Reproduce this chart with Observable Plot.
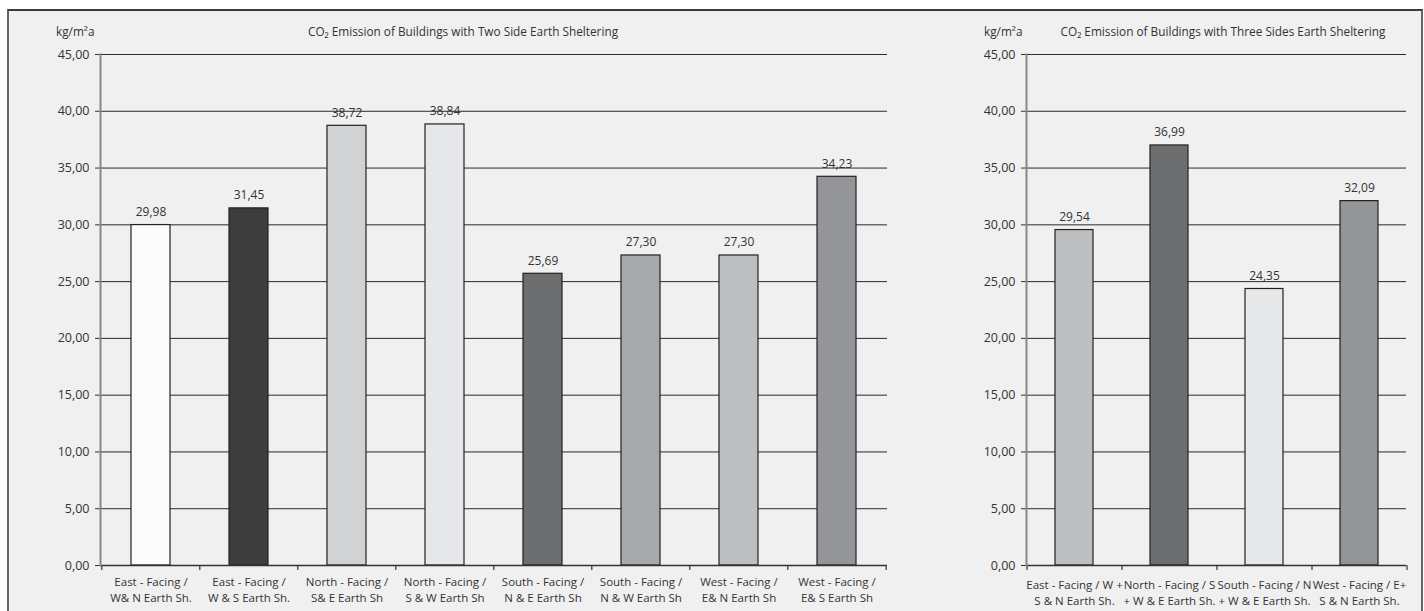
<!DOCTYPE html>
<html><head><meta charset="utf-8">
<script src="https://cdn.jsdelivr.net/npm/d3@7"></script>
<script src="https://cdn.jsdelivr.net/npm/@observablehq/plot@0.6"></script>
<style>
body{margin:0;background:#fff;width:1424px;height:611px;overflow:hidden;font-family:"Open Sans",sans-serif;position:relative;}
#frame{position:absolute;left:7px;top:9px;width:1412px;height:610px;background:#f0f0f0;border-top:2px solid #3a3a3a;border-left:2px solid #666;border-right:2px solid #666;}
.panel{position:absolute;top:0;}
.t{position:absolute;font-size:11.8px;color:#333;white-space:nowrap;line-height:16px;}
.c{transform:translateX(-50%);}
</style></head><body>
<div id="frame"></div>
<div id="left" class="panel" style="left:0"></div>
<div id="right" class="panel" style="left:900px"></div>
<div class="t" style="left:56px;top:23px">kg/m²a</div>
<div class="t c" style="left:463px;top:23px">CO₂ Emission of Buildings with Two Side Earth Sheltering</div>
<div class="t" style="left:984px;top:23px">kg/m²a</div>
<div class="t c" style="left:1223px;top:23px">CO₂ Emission of Buildings with Three Sides Earth Sheltering</div>
<script>
const yTicks = [0, 5, 10, 15, 20, 25, 30, 35, 40, 45];

const twoSideCats = [
  "East - Facing /\nW& N Earth Sh.",
  "East - Facing /\nW & S Earth Sh.",
  "North - Facing /\nS& E Earth Sh",
  "North - Facing /\nS & W Earth Sh",
  "South - Facing /\nN & E Earth Sh",
  "South - Facing /\nN & W Earth Sh",
  "West - Facing /\nE& N Earth Sh",
  "West - Facing /\nE& S Earth Sh"
];
const twoSideValues = [29.98, 31.45, 38.72, 38.84, 25.69, 27.30, 27.30, 34.23];
const twoSideColors = ["#fbfbfb", "#3d3d3d", "#d1d2d4", "#e6e7e8", "#6d6e70", "#a7a9ac", "#bcbec0", "#939598"];

const threeSideCats = [
  "East - Facing / W +\nS & N Earth Sh.",
  "North - Facing / S\n+ W & E Earth Sh.",
  "South - Facing / N\n+ W & E Earth Sh.",
  "West - Facing / E+\nS & N Earth Sh."
];
const threeSideValues = [29.54, 36.99, 24.35, 32.09];
const threeSideColors = ["#bcbec0", "#6d6e70", "#e6e7e8", "#939598"];

const fmt = d => d.toFixed(2).replace(".", ",");

function panel(cats, vals, cols, width, mL, mR, xPad) {
  const data = cats.map((c, i) => ({c, v: vals[i], col: cols[i]}));
  const H = 611, mT = 54, mB = 46;
  const step = (width - mL - mR) / cats.length;
  const p = 0.6;
  return Plot.plot({
    width, height: H, marginLeft: mL, marginRight: mR, marginTop: mT, marginBottom: mB,
    style: {background: "transparent", fontFamily: "Open Sans", fontSize: "12px", color: "#333"},
    x: {domain: cats, paddingInner: p, paddingOuter: p / 2, label: null},
    y: {domain: [0, 45], label: null},
    marks: [
      Plot.gridY(yTicks.filter(t => t > 0), {stroke: "#2a2a2a", strokeOpacity: 1}),
      Plot.axisY(yTicks, {tickFormat: fmt, tickSize: 5, tickPadding: 6, stroke: "#333", fill: "#333", fontSize: 12.5}),
      Plot.barY(data, {x: "c", y: "v", fill: "col", stroke: "#222", strokeWidth: 1.2}),
      Plot.text(data, {x: "c", y: "v", text: d => fmt(d.v), dy: -13, fontSize: 12, fill: "#333"}),
      Plot.axisX({tickSize: 0, tickPadding: xPad, lineHeight: 1.42, fontSize: 11.5, fill: "#333"}),
      Plot.ruleY([0], {stroke: "#333", strokeWidth: 1.5}),
      Plot.ruleX(cats, {x: d => d, dx: -step / 2, y1: 0, y2: -0.45, stroke: "#333", strokeWidth: 1.2}),
      Plot.ruleX(cats.slice(-1), {x: d => d, dx: step / 2, y1: 0, y2: -0.45, stroke: "#333", strokeWidth: 1.2}),
      Plot.frame({anchor: "left", stroke: "#888", strokeWidth: 2})
    ]
  });
}

document.getElementById("left").append(panel(twoSideCats, twoSideValues, twoSideColors, 900, 100, 13, 9));
document.getElementById("right").append(panel(threeSideCats, threeSideValues, threeSideColors, 524, 126, 18, 12));
</script>
</body></html>
